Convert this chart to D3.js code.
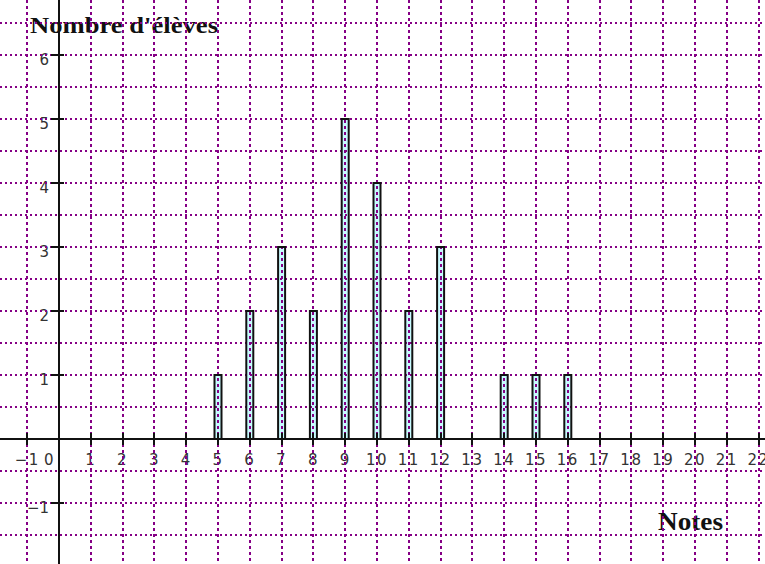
<!DOCTYPE html>
<html><head><meta charset="utf-8">
<script src="https://cdn.jsdelivr.net/npm/d3@7"></script>
<style>html,body{margin:0;padding:0;background:#fff;}svg{display:block;}</style>
</head><body>
<script>
// Data
const notes = [5, 6, 7, 8, 9, 10, 11, 12, 14, 15, 16];
const eleves = [1, 2, 3, 2, 5, 4, 2, 3, 1, 1, 1];
const xTickValues = [-1, 0, 1, 2, 3, 4, 5, 6, 7, 8, 9, 10, 11, 12, 13, 14, 15, 16, 17, 18, 19, 20, 21, 22];
const yTickValues = [-2, -1, 1, 2, 3, 4, 5, 6];
const yTitle = "Nombre d'élèves";
const xTitle = "Notes";

const W = 765, H = 564;
const purple = "#850085";
const svg = d3.select("body").append("svg").attr("width", W).attr("height", H);

const x = d3.scaleLinear().domain([0, 22]).range([59, 59 + 22 * 31.8]);
const y = d3.scaleLinear().domain([0, 6]).range([439, 55]);

// bars fill
const barW = 7;
svg.append("g").selectAll("rect").data(notes).join("rect")
  .attr("x", (d) => x(d) - barW / 2)
  .attr("y", (d, i) => y(eleves[i]))
  .attr("width", barW)
  .attr("height", (d, i) => y(0) - y(eleves[i]))
  .attr("fill", "#c8fbff");

// tick labels
const lab = svg.append("g").attr("font-family", "DejaVu Sans, Verdana, sans-serif")
  .attr("font-size", 15).attr("fill", "#333");
lab.selectAll("text.xl").data(xTickValues).join("text")
  .attr("class", "xl")
  .attr("x", (d) => d === 0 ? x(0) - 4 : x(d))
  .attr("y", 465)
  .attr("text-anchor", (d) => d === 0 ? "end" : "middle")
  .attr("letter-spacing", 1.5)
  .text((d) => d < 0 ? "−" + Math.abs(d) : d);
lab.selectAll("text.yl").data(yTickValues).join("text")
  .attr("class", "yl")
  .attr("x", x(0) - 10)
  .attr("y", (d) => y(d) + 10)
  .attr("text-anchor", "end")
  .text((d) => d < 0 ? "−" + Math.abs(d) : d);

// titles
svg.append("text").attr("x", 30).attr("y", 33)
  .attr("font-family", "Liberation Serif, Times New Roman, serif")
  .attr("font-weight", "bold").attr("font-size", 24)
  .attr("textLength", 188).attr("lengthAdjust", "spacingAndGlyphs")
  .attr("fill", "#111").text(yTitle);
svg.append("text").attr("x", 658).attr("y", 530)
  .attr("font-family", "Liberation Serif, Times New Roman, serif")
  .attr("font-weight", "bold").attr("font-size", 25)
  .attr("textLength", 65).attr("lengthAdjust", "spacingAndGlyphs")
  .attr("fill", "#111").text(xTitle);

// grid
const [x0, x1] = [x.invert(0), x.invert(W)];
const [yb, yt] = [y.invert(H), y.invert(0)];
const vGrid = d3.range(Math.ceil(x0), Math.floor(x1) + 1);
const hGrid = d3.range(Math.ceil(yb * 2) / 2, yt, 0.5);
const grid = svg.append("g").attr("stroke", purple).attr("stroke-width", 2);
grid.selectAll("line.v").data(vGrid).join("line").attr("class", "v")
  .attr("x1", (d) => Math.round(x(d))).attr("x2", (d) => Math.round(x(d)))
  .attr("y1", 0).attr("y2", H)
  .attr("stroke-dasharray", "3,3");
grid.selectAll("line.h").data(hGrid).join("line").attr("class", "h")
  .attr("y1", (d) => Math.round(y(d))).attr("y2", (d) => Math.round(y(d)))
  .attr("x1", 0).attr("x2", W)
  .attr("stroke-dasharray", "2,3");

// bar outlines
svg.append("g").selectAll("rect").data(notes).join("rect")
  .attr("x", (d) => x(d) - barW / 2)
  .attr("y", (d, i) => y(eleves[i]))
  .attr("width", barW)
  .attr("height", (d, i) => y(0) - y(eleves[i]))
  .attr("fill", "none").attr("stroke", "#111").attr("stroke-width", 2);

// axes
const ax = svg.append("g").attr("stroke", "#111").attr("stroke-width", 2);
ax.append("line").attr("x1", 0).attr("x2", W).attr("y1", y(0)).attr("y2", y(0));
ax.append("line").attr("x1", x(0)).attr("x2", x(0)).attr("y1", 0).attr("y2", H);
ax.selectAll("line.xt").data(xTickValues.filter((d) => d !== 0)).join("line").attr("class", "xt")
  .attr("x1", (d) => Math.round(x(d))).attr("x2", (d) => Math.round(x(d)))
  .attr("y1", y(0) - 6).attr("y2", y(0) + 6);
ax.selectAll("line.yt").data(yTickValues).join("line").attr("class", "yt")
  .attr("y1", (d) => y(d)).attr("y2", (d) => y(d))
  .attr("x1", x(0) - 8).attr("x2", x(0) + 5);
</script>
</body></html>
